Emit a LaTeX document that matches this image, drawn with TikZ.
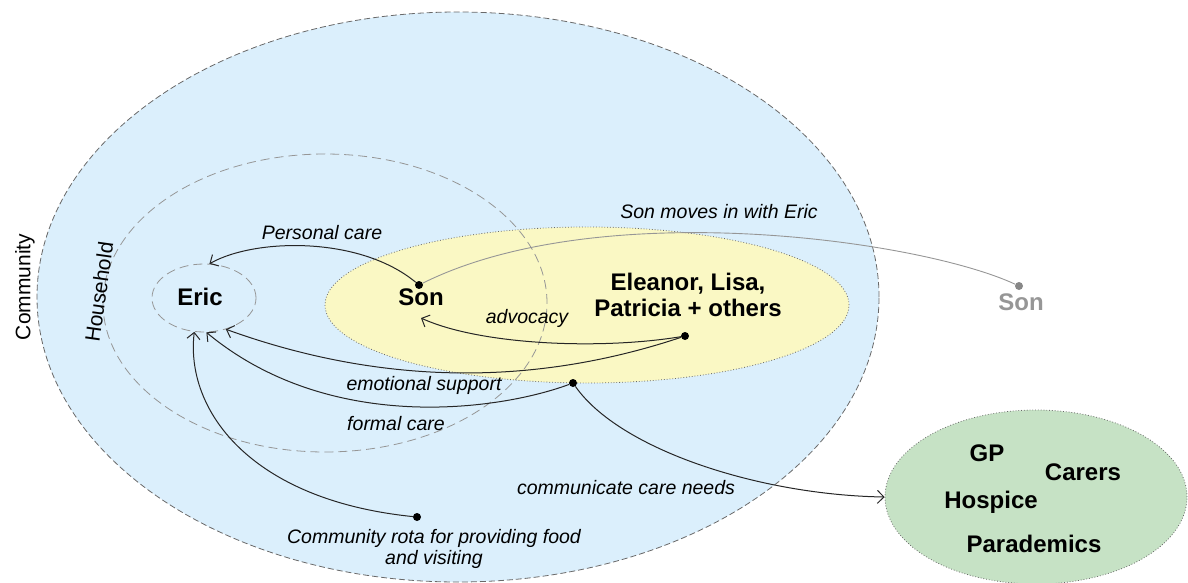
\documentclass[tikz,border=0pt]{standalone}
\usepackage{fontspec}
\setsansfont{Liberation Sans}
\definecolor{commblue}{RGB}{219,239,252}
\definecolor{famyellow}{RGB}{250,248,196}
\definecolor{servgreen}{RGB}{198,226,197}
\definecolor{linegrey}{RGB}{105,105,105}
\definecolor{movegrey}{RGB}{150,150,150}
\tikzset{every picture/.style={/utils/exec={\sffamily}}}
\usetikzlibrary{shapes.geometric}
\usetikzlibrary{arrows.meta}
\tikzset{
  ring/.style={ellipse, inner sep=0pt, draw=linegrey, line width=0.8pt},
  person/.style={font=\fontsize{24}{26}\selectfont\bfseries, align=center},
  flow/.style={font=\fontsize{19.5}{21}\selectfont\itshape, align=center},
  circlename/.style={font=\fontsize{21}{24}\selectfont},
  pointer/.style={draw=black!85, line width=1pt, -{Straight Barb[length=6.5pt,width=13pt]}},
  blob/.style={circle, fill=black, inner sep=0pt, minimum size=8pt},
}

\begin{document}
\begin{tikzpicture}[x=1pt, y=-1pt]
  \useasboundingbox (0,0) rectangle (1188,583);

  \node [ring, fill=commblue, dash pattern=on 6pt off 3pt, minimum width=842pt, minimum height=570pt] (community) at (458,297) {};
  \node [ring, fill=famyellow, dotted, minimum width=524pt, minimum height=156pt] (family) at (587,305) {};
  \node [ring, draw=linegrey!70, dash pattern=on 9pt off 5pt, minimum width=444pt, minimum height=298pt] (household) at (325,303) {};
  \node [ring, draw=linegrey!70, dash pattern=on 9pt off 5pt, minimum width=104pt, minimum height=68pt] (ericring) at (204,298) {};
  \node [ring, fill=servgreen, dotted, minimum width=302pt, minimum height=174pt] (services) at (1036,497) {};

  \node [circlename, rotate=90] (commlabel) at (25,287) {Community};
  \node [circlename, rotate=82] (houselabel) at (99,292) {Household};

  \node [person] (eric) at (200,297) {Eric};
  \node [person] (son) at (421,297) {Son};
  \node [person] (others) at (688,295) {Eleanor, Lisa,\\Patricia + others};
  \node [person, text=movegrey] (sonaway) at (1021,302) {Son};
  \node [person] (gp) at (987,453) {GP};
  \node [person] (carers) at (1083,472) {Carers};
  \node [person] (hospice) at (991,502) {Hospice};
  \node [person] (parademics) at (1034,544) {Parademics};

  \node [blob] (sondot) at (419,285) {};
  \node [blob] (othersdot) at (685,336) {};
  \node [blob] (formaldot) at (573,383) {};
  \node [blob] (rotadot) at (417,517) {};
  \node [blob, fill=movegrey!90!black] (awaydot) at (1019,286) {};

  \draw [movegrey, line width=0.9pt] (awaydot) .. controls (920,240) and (600,195) .. (sondot);
  \draw [pointer] (sondot) .. controls (360,236) and (255,238) .. (ericring.81);
  \draw [pointer] (othersdot) .. controls (600,350) and (480,345) .. ([yshift=-9pt]son.south);
  \draw [pointer] (othersdot) .. controls (532,387) and (380,385) .. (ericring.-55);
  \draw [pointer] (formaldot) .. controls (500,410) and (330,435) .. (ericring.-86);
  \draw [pointer] (rotadot) .. controls (250,500) and (185,410) .. (ericring.-106);
  \draw [pointer] (formaldot) .. controls (620,450) and (760,495) .. (services.west);

  \node [flow] (carelabel) at (322,233) {Personal care};
  \node [flow] (movelabel) at (719,212) {Son moves in with Eric};
  \node [flow] (advlabel) at (527,318) {advocacy};
  \node [flow] (emolabel) at (424,385) {emotional support};
  \node [flow] (formlabel) at (396,424) {formal care};
  \node [flow] (needlabel) at (626,488) {communicate care needs};
  \node [flow] (rotalabel) at (434,549) {Community rota for providing food\\and visiting};
\end{tikzpicture}
\end{document}
